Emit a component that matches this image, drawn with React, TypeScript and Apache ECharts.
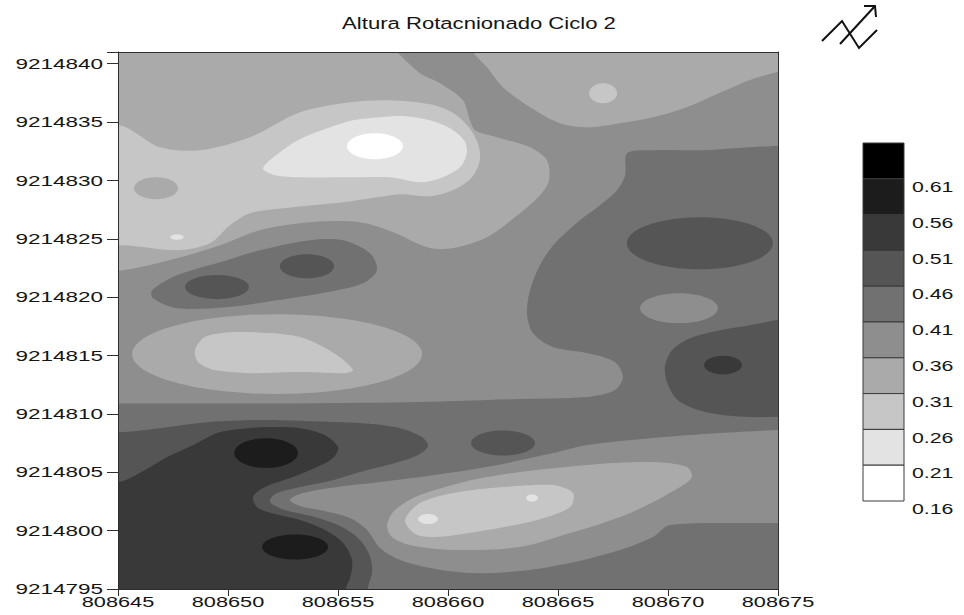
import React, { useEffect, useRef } from 'react';
import * as echarts from 'echarts';

type Pt = [number, number];

// ---------- axes / labels ----------
const TITLE = 'Altura Rotacnionado Ciclo 2';
const X_MIN = 808645;
const X_MAX = 808675;
const Y_MIN = 9214795;
const Y_MAX = 9214841;
const X_TICKS = [808645, 808650, 808655, 808660, 808665, 808670, 808675];
const Y_TICKS = [9214795, 9214800, 9214805, 9214810, 9214815, 9214820, 9214825, 9214830, 9214835, 9214840];

// ---------- contour classes (lower bound of each band) ----------
const LEVEL_BOUNDS = [0.16, 0.21, 0.26, 0.31, 0.36, 0.41, 0.46, 0.51, 0.56, 0.61];
const LEVEL_COLORS = ['#ffffff', '#e3e3e3', '#c6c6c6', '#aaaaaa', '#8e8e8e', '#717171', '#555555', '#393939', '#1c1c1c', '#000000'];

// ---------- contour regions, traced from the map ----------
// points are [easting - 808645, northing - 9214795] in metres
const BAND_BASE: Pt[] = [[-10, -10], [40, -10], [40, 56], [-10, 56]];
const BAND_UPPER_MID: Pt[] = [[-10, 56], [40, 56], [40, 38.2], [32, 38.1], [28.73, 37.84], [26.59, 37.59], [24.32, 37.59], [23.14, 37.33], [23.05, 35.45], [22.68, 34.16], [21.91, 32.88], [21.0, 31.59], [19.86, 29.62], [19.18, 27.74], [18.73, 25.6], [18.59, 23.63], [18.86, 21.92], [19.77, 20.72], [21.32, 20.21], [22.59, 19.43], [22.95, 18.15], [22.59, 17.04], [21.32, 16.44], [18.27, 16.27], [13.73, 16.01], [8.27, 15.9], [3.73, 15.9], [-2, 15.9], [-10, 15.9]];
const BAND_TOP_LEFT: Pt[] = [[-10, 56], [10.8, 56], [11.6, 48], [12.68, 46], [13.73, 44.18], [14.64, 43.32], [15.68, 41.87], [16.0, 40.15], [16.23, 39.3], [17.23, 38.7], [18.73, 37.84], [19.5, 36.73], [19.59, 35.02], [19.18, 33.73], [18.27, 32.19], [16.77, 30.14], [15.23, 29.2], [14.18, 29.2], [12.5, 30.57], [11.0, 31.42], [8.73, 31.42], [6.45, 30.74], [4.64, 29.45], [2.68, 28.34], [0.23, 27.31], [-2, 27.1], [-10, 27.1]];
const BAND_TOP_RIGHT: Pt[] = [[15.2, 56], [15.6, 48], [16.14, 46], [16.77, 44.69], [17.5, 42.98], [18.73, 41.27], [20.09, 39.9], [21.32, 39.55], [22.82, 39.9], [24.32, 40.41], [25.86, 41.27], [27.36, 42.5], [28.73, 43.6], [30, 44.3], [31.5, 44.9], [40, 47], [40, 56]];
const BAND_LIGHT_UPPER: Pt[] = [[-10, 39.73], [0, 39.73], [1.91, 37.84], [3.73, 37.59], [6.0, 38.7], [8.27, 40.84], [10.55, 41.7], [12.36, 41.87], [14.18, 41.52], [15.18, 40.84], [15.91, 39.64], [16.36, 38.18], [16.45, 36.73], [16.09, 35.27], [15.32, 34.25], [14.18, 33.65], [12.82, 33.82], [11.77, 33.56], [10.23, 33.13], [7.95, 32.71], [6.0, 32.19], [5.09, 31.16], [4.18, 29.62], [2.68, 29.02], [0.23, 29.45], [-10, 29.45]];
const BAND_PALE_UPPER: Pt[] = [[6.59, 36.04], [7.36, 37.41], [8.27, 38.53], [9.64, 39.55], [10.68, 40.15], [11.91, 40.41], [13.05, 40.5], [14.18, 40.15], [15.09, 39.47], [15.73, 38.44], [15.86, 37.41], [15.55, 36.13], [14.64, 35.19], [13.73, 34.85], [12.36, 35.27], [10.55, 35.27], [8.27, 35.27], [7.14, 35.45]];
const BAND_RING_UPPER: Pt[] = [[1.55, 25.6], [2.68, 26.88], [4.95, 28.17], [6.45, 29.02], [8.73, 29.88], [10.23, 29.88], [11.45, 28.77], [11.77, 27.31], [11.14, 26.2], [9.5, 25.43], [7.23, 24.74], [4.95, 24.14], [2.68, 24.06], [1.59, 24.91]];
const BAND_OVAL_INNER: Pt[] = [[3.5, 20.46], [3.95, 21.58], [5.09, 22.0], [6.91, 21.92], [8.27, 21.58], [9.18, 20.89], [10.09, 19.86], [10.68, 18.75], [10.32, 18.49], [8.27, 18.58], [6.0, 18.49], [4.41, 18.75], [3.64, 19.43]];
const BAND_RIGHT_DARK: Pt[] = [[40, 23.3], [31, 23.3], [28.73, 22.6], [27.36, 22.17], [26.0, 21.49], [25.18, 20.46], [24.86, 19.01], [25.0, 17.47], [25.55, 16.01], [26.91, 15.07], [28.73, 14.73], [31, 14.8], [40, 14.8]];
const BAND_LOW_OUTER: Pt[] = [[7.82, 7.62], [8.27, 8.13], [9.64, 8.65], [11.91, 9.16], [13.73, 9.59], [16.77, 10.45], [19.77, 11.64], [21.32, 12.33], [24.32, 12.93], [27.36, 13.36], [30, 13.61], [32, 13.65], [40, 13.7], [40, 5.6], [32, 5.62], [28.73, 5.65], [25.09, 5.48], [24.32, 4.45], [22.82, 3.34], [20.55, 2.23], [18.27, 1.54], [16.0, 1.37], [14.18, 1.8], [12.82, 2.48], [11.91, 3.51], [11.32, 5.05], [10.55, 6.08], [9.18, 6.76], [8.27, 7.11]];
const BAND_LOW_MID: Pt[] = [[12.23, 5.48], [12.59, 6.76], [13.73, 8.05], [16.77, 9.59], [21.32, 10.62], [24.32, 10.87], [25.86, 10.45], [26.09, 9.59], [25.55, 8.73], [23.59, 6.76], [22.05, 5.65], [20.55, 4.79], [18.27, 3.6], [15.23, 3.34], [13.27, 3.77], [12.45, 4.45]];
const BAND_LOW_INNER: Pt[] = [[13.05, 5.91], [13.73, 7.36], [15.23, 8.22], [17.5, 8.73], [19.77, 8.9], [20.68, 8.22], [20.55, 7.02], [19.05, 5.91], [16.77, 5.05], [14.5, 4.45], [13.5, 4.71]];
const BAND_SW_DARK: Pt[] = [[-10, 13.44], [0, 13.44], [1.91, 13.78], [4.18, 14.3], [6.45, 14.47], [8.73, 14.38], [11.0, 14.21], [12.82, 13.78], [13.82, 13.01], [14.09, 12.24], [13.64, 11.47], [12.59, 10.79], [11.0, 10.02], [9.64, 9.25], [8.27, 8.73], [7.14, 8.13], [6.91, 7.45], [7.59, 6.76], [8.95, 6.16], [10.18, 5.31], [11.0, 4.2], [11.45, 2.83], [11.55, 1.46], [11.36, 0], [11.3, -10], [-10, -10]];
const BAND_SW_DARKER: Pt[] = [[-10, 9.16], [0, 9.16], [1.23, 10.19], [2.23, 11.3], [3.5, 12.41], [4.5, 13.36], [5.55, 13.7], [6.77, 13.87], [8.27, 13.78], [9.41, 13.18], [10.0, 12.16], [9.77, 11.22], [9.05, 10.45], [7.82, 9.5], [6.68, 8.73], [6.14, 7.88], [6.36, 6.93], [7.14, 6.42], [8.27, 5.91], [9.41, 5.05], [10.23, 3.94], [10.64, 2.48], [10.55, 0.94], [10.36, 0], [10.3, -10], [-10, -10]];

// closed spots: [centre E, centre N, half-width E, half-width N]
const SPOT_TOP_RIGHT_LIGHT = [22.05, 42.47, 0.64, 0.86];
const SPOT_LEFT_CIRCLE = [1.73, 34.33, 1.0, 0.94];
const SPOT_LEFT_SPECK = [2.68, 30.14, 0.3, 0.22];
const SPOT_WHITE = [11.68, 37.93, 1.27, 1.11];
const SPOT_RING_A = [4.5, 25.86, 1.45, 1.03];
const SPOT_RING_B = [8.59, 27.65, 1.23, 1.03];
const SPOT_OVAL_OUTER = [7.23, 20.12, 6.59, 3.42];
const SPOT_EAST_DARK = [26.45, 29.62, 3.32, 2.23];
const SPOT_EAST_LIGHT = [25.5, 24.06, 1.77, 1.28];
const SPOT_EAST_CORE = [27.5, 19.18, 0.86, 0.8];
const SPOT_MID_DARK = [17.5, 12.5, 1.45, 1.07];
const SPOT_SW_A = [6.73, 11.64, 1.45, 1.28];
const SPOT_SW_B = [8.05, 3.6, 1.5, 1.07];
const SPOT_LOW_SPECK_A = [14.09, 5.99, 0.45, 0.43];
const SPOT_LOW_SPECK_B = [18.82, 7.79, 0.27, 0.3];

type Layer = { level: number; poly?: Pt[]; spot?: number[]; smooth?: number };
const LAYERS: Layer[] = [
  { level: 5, poly: BAND_BASE, smooth: 0 },
  { level: 4, poly: BAND_UPPER_MID },
  { level: 3, poly: BAND_TOP_LEFT },
  { level: 3, poly: BAND_TOP_RIGHT },
  { level: 2, spot: SPOT_TOP_RIGHT_LIGHT },
  { level: 2, poly: BAND_LIGHT_UPPER },
  { level: 3, spot: SPOT_LEFT_CIRCLE },
  { level: 1, spot: SPOT_LEFT_SPECK },
  { level: 1, poly: BAND_PALE_UPPER },
  { level: 0, spot: SPOT_WHITE },
  { level: 5, poly: BAND_RING_UPPER },
  { level: 6, spot: SPOT_RING_A },
  { level: 6, spot: SPOT_RING_B },
  { level: 3, spot: SPOT_OVAL_OUTER },
  { level: 2, poly: BAND_OVAL_INNER },
  { level: 6, spot: SPOT_EAST_DARK },
  { level: 4, spot: SPOT_EAST_LIGHT },
  { level: 6, poly: BAND_RIGHT_DARK },
  { level: 7, spot: SPOT_EAST_CORE },
  { level: 6, spot: SPOT_MID_DARK },
  { level: 4, poly: BAND_LOW_OUTER },
  { level: 3, poly: BAND_LOW_MID },
  { level: 2, poly: BAND_LOW_INNER },
  { level: 1, spot: SPOT_LOW_SPECK_A },
  { level: 1, spot: SPOT_LOW_SPECK_B },
  { level: 6, poly: BAND_SW_DARK },
  { level: 7, poly: BAND_SW_DARKER },
  { level: 8, spot: SPOT_SW_A },
  { level: 8, spot: SPOT_SW_B },
];

const FONT = 'Liberation Sans, Arial, sans-serif';
const TEXT_COLOR = '#151515';
const AXIS_COLOR = '#2e2e2e';

function txt(text: string, x: number, y: number, align: string, size: number, sx: number) {
  return {
    type: 'text',
    x,
    y,
    scaleX: sx,
    z: 20,
    style: {
      text,
      fill: TEXT_COLOR,
      fontSize: size,
      fontFamily: FONT,
      textAlign: align,
      align,
      textVerticalAlign: 'middle',
      verticalAlign: 'middle',
    },
  };
}

export default function App() {
  const ref = useRef<HTMLDivElement>(null);

  useEffect(() => {
    if (!ref.current) return;
    const chart = echarts.init(ref.current, undefined, { renderer: 'svg' });

    const axisBase = {
      type: 'value',
      z: 10,
      splitLine: { show: false },
      axisLabel: { show: false },
    };
    const line = { show: true, onZero: false, lineStyle: { color: AXIS_COLOR, width: 1 } };

    chart.setOption({
      animation: false,
      backgroundColor: '#ffffff',
      grid: { left: 118, right: 186, top: 52, bottom: 26, containLabel: false },
      xAxis: [
        {
          ...axisBase,
          min: X_MIN,
          max: X_MAX,
          interval: 5,
          position: 'bottom',
          axisLine: line,
          axisTick: { show: true, inside: false, length: 7, lineStyle: { color: AXIS_COLOR, width: 1 } },
        },
        { ...axisBase, min: X_MIN, max: X_MAX, interval: 5, position: 'top', axisLine: line, axisTick: { show: false } },
      ],
      yAxis: [
        {
          ...axisBase,
          min: Y_MIN,
          max: Y_MAX,
          interval: 5,
          position: 'left',
          axisLine: line,
          axisTick: { show: true, inside: false, length: 11, lineStyle: { color: AXIS_COLOR, width: 1 } },
        },
        { ...axisBase, min: Y_MIN, max: Y_MAX, interval: 5, position: 'right', axisLine: line, axisTick: { show: false } },
      ],
      series: [
        {
          type: 'custom',
          coordinateSystem: 'cartesian2d',
          xAxisIndex: 0,
          yAxisIndex: 0,
          clip: true,
          silent: true,
          data: LAYERS.map(() => [X_MIN, Y_MIN]),
          renderItem: (params: any, api: any) => {
            const layer = LAYERS[params.dataIndex];
            const fill = LEVEL_COLORS[layer.level];
            const cs = params.coordSys;
            let el: any;
            if (layer.poly) {
              const pts = layer.poly.map(([dx, dy]) => api.coord([X_MIN + dx, Y_MIN + dy]));
              el = {
                type: 'polygon',
                shape: { points: pts, smooth: layer.smooth ?? 0.3 },
                style: { fill, stroke: null },
              };
            } else {
              const s = layer.spot as number[];
              const c = api.coord([X_MIN + s[0], Y_MIN + s[1]]);
              const sz = api.size([s[2], s[3]]);
              el = {
                type: 'ellipse',
                shape: { cx: c[0], cy: c[1], rx: sz[0], ry: sz[1] },
                style: { fill, stroke: null },
              };
            }
            return {
              type: 'group',
              children: [el],
              clipPath: { type: 'rect', shape: { x: cs.x, y: cs.y, width: cs.width, height: cs.height } },
            };
          },
        },
      ],
    });

    // ---- tick labels placed through the axes' scales ----
    const left = chart.convertToPixel({ xAxisIndex: 0 }, X_MIN) as number;
    const bottom = chart.convertToPixel({ yAxisIndex: 0 }, Y_MIN) as number;
    const graphics: any[] = [];
    Y_TICKS.forEach((v) => {
      const py = chart.convertToPixel({ yAxisIndex: 0 }, v) as number;
      graphics.push(txt(String(v), left - 15, py, 'right', 15, 1.5));
    });
    X_TICKS.forEach((v) => {
      const px = chart.convertToPixel({ xAxisIndex: 0 }, v) as number;
      graphics.push(txt(String(v), px, bottom + 13, 'center', 15, 1.45));
    });

    // ---- title ----
    graphics.push(txt(TITLE, 479, 23, 'center', 17, 1.3));

    // ---- colour key ----
    const keyX = 863;
    const keyTop = 143;
    const keyW = 41;
    const keyH = 35.8;
    const n = LEVEL_BOUNDS.length;
    for (let k = n - 1; k >= 0; k--) {
      const row = n - 1 - k;
      graphics.push({
        type: 'rect',
        shape: { x: keyX, y: keyTop + row * keyH, width: keyW, height: keyH },
        style: { fill: LEVEL_COLORS[k], stroke: '#3a3a3a', lineWidth: 1 },
        z: 15,
      });
      graphics.push(txt(LEVEL_BOUNDS[k].toFixed(2), keyX + keyW + 8, keyTop + (row + 1) * keyH + 8, 'left', 15, 1.42));
    }

    // ---- north arrow ----
    const arrowStyle = { stroke: '#111', lineWidth: 2, fill: null };
    graphics.push({ type: 'polyline', shape: { points: [[822, 41], [842, 21], [859, 48], [877, 30]] }, style: arrowStyle, z: 15 });
    graphics.push({ type: 'polyline', shape: { points: [[840, 44], [875, 6]] }, style: arrowStyle, z: 15 });
    graphics.push({ type: 'polyline', shape: { points: [[864, 6], [875, 6], [876, 17]] }, style: arrowStyle, z: 15 });

    chart.setOption({ graphic: graphics });

    return () => chart.dispose();
  }, []);

  return (
    <div
      ref={ref}
      style={{ position: 'fixed', left: 0, top: 0, width: 964, height: 615, background: '#ffffff' }}
    />
  );
}
